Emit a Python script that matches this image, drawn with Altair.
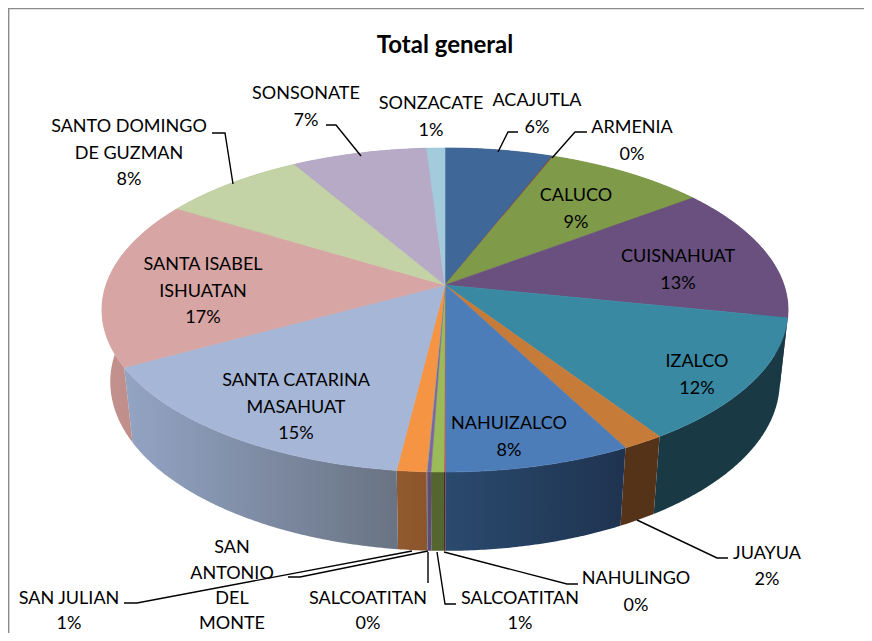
import math
import altair as alt

# --- data ---
municipios = ["ACAJUTLA", "ARMENIA", "CALUCO", "CUISNAHUAT", "IZALCO", "JUAYUA", "NAHUIZALCO",
              "NAHULINGO", "SALCOATITAN", "SALCOATITAN 2", "SAN ANTONIO DEL MONTE", "SAN JULIAN",
              "SANTA CATARINA MASAHUAT", "SANTA ISABEL ISHUATAN", "SANTO DOMINGO DE GUZMAN",
              "SONSONATE", "SONZACATE"]
shares = [5.9, 0.05, 8.8, 13.5, 12.5, 1.7, 7.6, 0.05, 0.52, 0.15, 0.02, 1.2, 15.08, 16.75, 7.9, 7.4, 1.0]
top_colors = ["#3f6797", "#9c3f3b", "#7f9a48", "#69507f", "#3a89a3", "#c77b38", "#4d7db9", "#c0504d",
              "#9bbb59", "#8064a2", "#4bacc6", "#f59443", "#a6b6d6", "#d7a6a4", "#c3d3a5", "#b7aac6", "#a4cbdb"]
wall_left = ["#27405f", "#5a2523", "#55652f", "#3f2f4f", "#193a44", "#553318", "#2a4a6e", "#5a2523",
             "#55652f", "#5f4a7a", "#2c6577", "#91592e", "#93a4c4", "#c3928f", "#8d9a75", "#8a7f96", "#7d99a5"]
wall_right = ["#27405f", "#5a2523", "#55652f", "#3f2f4f", "#193a44", "#553318", "#1f3350", "#5a2523",
              "#55652f", "#5f4a7a", "#2c6577", "#8d552b", "#697383", "#b98885", "#8d9a75", "#8a7f96", "#7d99a5"]

label_text = ["Total general",
              "ACAJUTLA", "6%", "ARMENIA", "0%", "SONZACATE", "1%", "SONSONATE", "7%",
              "SANTO DOMINGO", "DE GUZMAN", "8%", "CALUCO", "9%", "CUISNAHUAT", "13%", "IZALCO", "12%",
              "SANTA ISABEL", "ISHUATAN", "17%", "SANTA CATARINA", "MASAHUAT", "15%", "NAHUIZALCO", "8%",
              "JUAYUA", "2%", "NAHULINGO", "0%", "SALCOATITAN", "1%", "SALCOATITAN", "0%",
              "SAN JULIAN", "1%", "SAN", "ANTONIO", "DEL", "MONTE"]
label_x = [445, 537, 537, 632, 632, 431, 431, 306, 306, 129, 129, 129, 576, 576, 678, 678, 697, 697,
           203, 203, 203, 296, 296, 296, 509, 509, 767, 767, 636, 636, 520, 520, 368, 368, 69, 69,
           232, 232, 232, 232]
label_y = [46, 101, 128, 128, 155, 104, 131, 94, 121, 127, 154, 180, 196, 223, 257, 284, 362, 389,
           265, 292, 318, 381, 408, 434, 424, 451, 554, 580, 579, 606, 599, 624, 599, 624, 599, 624,
           548, 574, 599, 624]

leaders = [
    [(498, 152), (508, 132), (518, 132)],
    [(552, 158), (575, 132), (587, 132)],
    [(233, 184), (225, 133), (212, 133)],
    [(361, 156), (336, 125), (326, 125)],
    [(637, 520), (717, 558), (728, 558)],
    [(444, 552), (567, 584), (578, 584)],
    [(437, 552), (445, 604), (456, 604)],
    [(428, 552), (428, 583)],
    [(412, 551), (137, 603), (124, 603)],
    [(428, 551), (300, 577), (288, 577)],
]
frame = [(8.6, 641), (8.6, 8.4), (872, 8.4)]

# --- projection of the tilted disc ---
CX, CY, A, B, C, K, M = 445, 285, 339, 158.2, 73.2, 0.154, 0.0244
OX, OY = 8, 8


def pt(a, h):
    u, v = math.sin(a), math.cos(a)
    d = 1 + K * v + M * h
    return [CX + A * u / d - OX, CY + (-B * v + C * h) / d - OY]


def arc(a0, a1, h):
    n = max(2, int((a1 - a0) * 120))
    return [pt(a0 + (a1 - a0) * i / n, h) for i in range(n + 1)]


total = sum(shares)
starts, acc = [], 0.0
for s in shares:
    starts.append(acc)
    acc += s
ang = lambda p: 2 * math.pi * p / total

proj = alt.Projection(type="identity", scale=1, translate=[0, 0])
layers = []

# side wall, one shape per slice
for i, s in enumerate(shares):
    a0, a1 = ang(starts[i]), ang(starts[i] + s)
    ring = arc(a0, a1, 0) + arc(a0, a1, 1)[::-1]
    ring.append(ring[0])
    grad = alt.LinearGradient(gradient="linear", x1=0, x2=1, y1=0, y2=0,
                              stops=[alt.GradientStop(color=wall_left[i], offset=0),
                                     alt.GradientStop(color=wall_right[i], offset=1)])
    layers.append(alt.Chart(alt.Data(values=[{"type": "Feature", "properties": {},
                                              "geometry": {"type": "Polygon", "coordinates": [ring]}}]))
                  .mark_geoshape(fill=grad, stroke=None, strokeWidth=0).project(**proj.to_dict()))

# top face
top = []
for i, s in enumerate(shares):
    a0, a1 = ang(starts[i]), ang(starts[i] + s)
    ring = [[CX - OX, CY - OY]] + arc(a0, a1, 0)
    ring.append(ring[0])
    top.append({"type": "Feature", "properties": {}, "color": top_colors[i], "name": municipios[i],
                "geometry": {"type": "Polygon", "coordinates": [ring]}})
layers.append(alt.Chart(alt.Data(values=top)).mark_geoshape(strokeWidth=0.6).encode(
    fill=alt.Fill("color:N", scale=None), stroke=alt.Stroke("color:N", scale=None)
).project(**proj.to_dict()))

# leaders and frame
lines = [{"type": "Feature", "properties": {},
          "geometry": {"type": "LineString", "coordinates": [[x - OX, y - OY] for x, y in l]}} for l in leaders]
layers.append(alt.Chart(alt.Data(values=lines)).mark_geoshape(filled=False, stroke="#000000", strokeWidth=1.4)
              .project(**proj.to_dict()))
fr = [{"type": "Feature", "properties": {},
       "geometry": {"type": "LineString", "coordinates": [[x - OX, y - OY] for x, y in frame]}}]
layers.append(alt.Chart(alt.Data(values=fr)).mark_geoshape(filled=False, stroke="#8c8c8c", strokeWidth=1.6)
              .project(**proj.to_dict()))

# labels
rows = [{"t": t, "x": x - OX, "y": y - OY, "w": "bold" if j == 0 else "normal"}
        for j, (t, x, y) in enumerate(zip(label_text, label_x, label_y))]
body = [r for r in rows if r["w"] == "normal"]
head = [r for r in rows if r["w"] == "bold"]
for dat, size, weight in ((body, 18, "normal"), (head, 24, "bold")):
    layers.append(alt.Chart(alt.Data(values=dat))
                  .mark_text(font="Lato", fontSize=size, fontWeight=weight, color="#000000",
                             align="center", baseline="middle")
                  .encode(x=alt.X("x:Q", scale=None, axis=None), y=alt.Y("y:Q", scale=None, axis=None),
                          text="t:N"))

chart = alt.layer(*layers).properties(
    width=856, height=625, padding=0, autosize=alt.AutoSizeParams(type="none"),
    background="#ffffff",
).configure_view(stroke=None)
chart.save("out.html", embed_options={"renderer": "svg", "actions": False})
